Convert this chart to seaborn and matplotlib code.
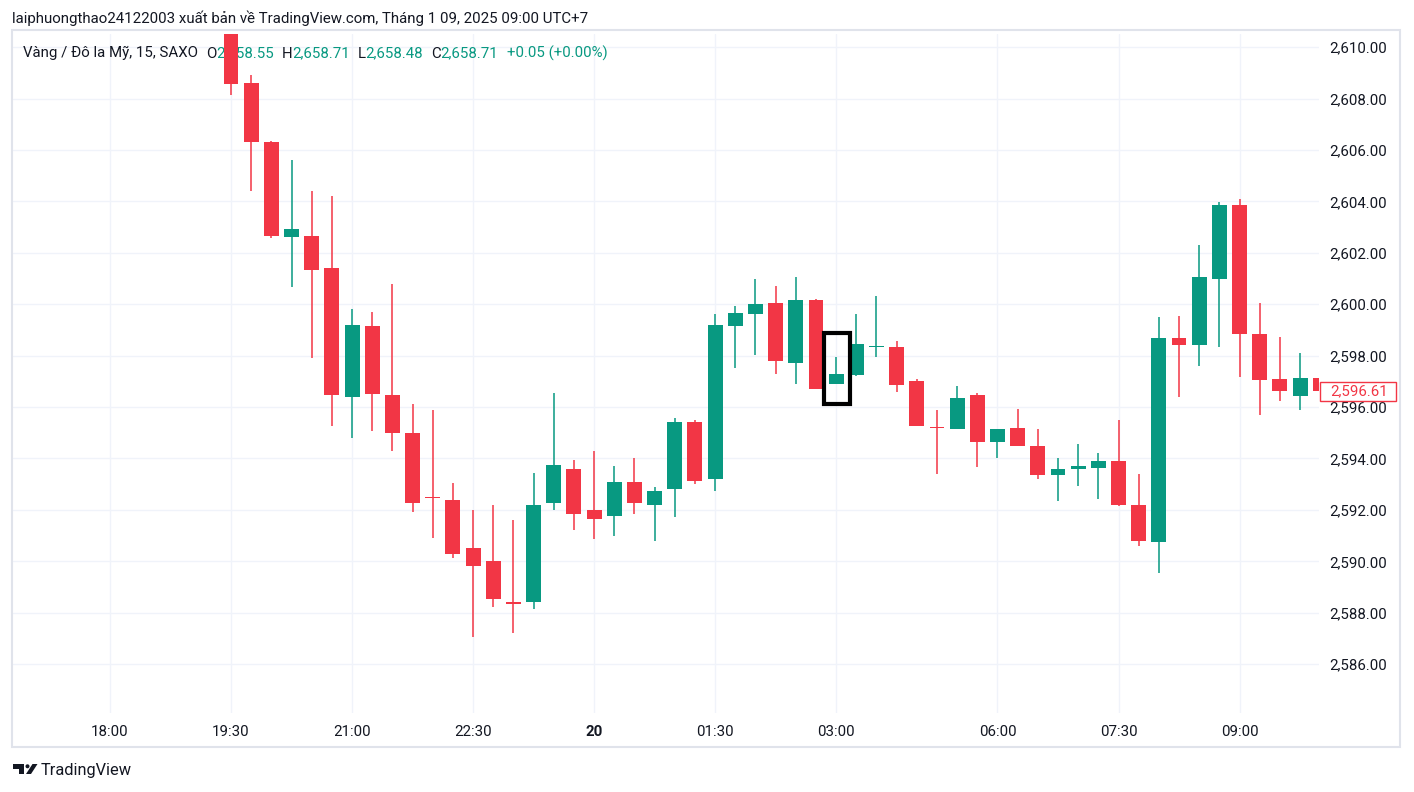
"""
Gold / USD 15 min candles (SAXO), TradingView snapshot, redrawn with seaborn + matplotlib.
"""

import matplotlib
matplotlib.use('Agg')
import matplotlib.pyplot as plt
import matplotlib.patches as mpatches
import numpy as np
import pandas as pd
import seaborn as sns

## 15-min bar grid, 19 Jan 18:00 -> 20 Jan 10:00 (UTC+7), market break 04:00-05:00
times = pd.date_range('2025-01-19 18:00', '2025-01-20 10:00', freq='15min')
times = times[times.hour != 4]

## Candles from 19:30 onwards (earlier bars are above the visible range)
first_bar = '2025-01-19 19:30'
opens = [2611.2, 2608.6, 2606.3, 2602.6, 2602.65, 2601.4, 2596.4, 2599.15, 2596.45, 2595.0,
         2592.5, 2592.4, 2590.5, 2590.0, 2588.38, 2588.4, 2592.25, 2593.6, 2592.0, 2591.75,
         2593.1, 2592.2, 2592.8, 2595.4, 2593.2, 2599.15, 2599.6, 2600.05, 2597.7, 2600.15,
         2596.9, 2597.25, 2598.33, 2598.35, 2597.0, 2595.22, 2595.15, 2596.45, 2594.65, 2595.2,
         2594.5, 2593.37, 2593.6, 2593.64, 2593.9, 2592.2, 2590.75, 2598.68, 2598.42, 2601.0,
         2603.85, 2598.85, 2597.09, 2596.44, 2597.13]
highs = [2611.8, 2608.9, 2606.35, 2605.6, 2604.4, 2604.2, 2599.8, 2599.7, 2600.8, 2596.1,
         2595.9, 2593.05, 2592.0, 2592.2, 2591.6, 2593.45, 2596.55, 2593.95, 2594.3, 2593.7,
         2594.0, 2592.9, 2595.57, 2595.5, 2599.6, 2599.93, 2601.0, 2600.7, 2601.05, 2600.2,
         2597.95, 2599.6, 2600.3, 2598.55, 2597.1, 2595.88, 2596.8, 2596.55, 2595.15, 2595.92,
         2595.14, 2594.0, 2594.55, 2594.2, 2595.5, 2593.4, 2599.5, 2599.55, 2602.3, 2603.97,
         2604.1, 2600.04, 2598.72, 2598.1, 2597.13]
lows = [2608.13, 2604.4, 2602.58, 2600.68, 2597.9, 2595.27, 2594.8, 2595.05, 2594.3, 2591.93,
        2590.9, 2590.14, 2587.07, 2588.23, 2587.22, 2588.15, 2592.0, 2591.23, 2590.85, 2591.0,
        2591.83, 2590.8, 2591.73, 2593.0, 2592.75, 2597.53, 2598.03, 2597.3, 2596.9, 2596.7,
        2596.9, 2597.22, 2597.95, 2596.6, 2595.27, 2593.4, 2595.15, 2593.68, 2594.03, 2594.5,
        2593.2, 2592.35, 2592.92, 2592.42, 2592.15, 2590.6, 2589.55, 2596.4, 2597.6, 2598.34,
        2597.18, 2595.7, 2596.24, 2595.9, 2596.6]
closes = [2608.55, 2606.3, 2602.65, 2602.92, 2601.35, 2596.45, 2599.2, 2596.5, 2595.0, 2592.25,
          2592.46, 2590.3, 2589.83, 2588.55, 2588.34, 2592.2, 2593.75, 2591.85, 2591.65, 2593.1,
          2592.25, 2592.75, 2595.4, 2593.13, 2599.2, 2599.65, 2600.0, 2597.8, 2600.15, 2596.7,
          2597.3, 2598.45, 2598.38, 2596.85, 2595.27, 2595.18, 2596.35, 2594.65, 2595.15, 2594.5,
          2593.37, 2593.6, 2593.7, 2593.9, 2592.2, 2590.8, 2598.7, 2598.42, 2601.05, 2603.85,
          2598.85, 2597.06, 2596.63, 2597.13, 2596.61]

## Axis labels
price_ticks = [2586, 2588, 2590, 2592, 2594, 2596, 2598, 2600, 2602, 2604, 2606, 2608, 2610]
time_ticks = ['2025-01-19 18:00', '2025-01-19 19:30', '2025-01-19 21:00', '2025-01-19 22:30',
              '2025-01-20 00:00', '2025-01-20 01:30', '2025-01-20 03:00', '2025-01-20 06:00',
              '2025-01-20 07:30', '2025-01-20 09:00']
time_labels = ['18:00', '19:30', '21:00', '22:30', '20', '01:30', '03:00', '06:00', '07:30', '09:00']
last_price = 2596.61
marked_bar = '2025-01-20 03:00'

header = 'laiphuongthao24122003 xuất bản về TradingView.com, Tháng 1 09, 2025 09:00 UTC+7'
legend_parts = [('Vàng / Đô la Mỹ, 15, SAXO', 'dark'), ('O', 'dark'), ('2,658.55', 'green'),
                ('H', 'dark'), ('2,658.71', 'green'), ('L', 'dark'), ('2,658.48', 'green'),
                ('C', 'dark'), ('2,658.71', 'green'), ('+0.05 (+0.00%)', 'green')]

UP = '#089981'
DOWN = '#F23645'
DARK = '#131722'
GRID = '#f0f3fa'
FS = 10.8

df = pd.DataFrame({'time': pd.date_range(first_bar, periods=len(opens), freq='15min'),
                   'open': opens, 'high': highs, 'low': lows, 'close': closes})
# bars after the 04:00 break are shifted by one hour
df.loc[df['time'] >= '2025-01-20 04:00', 'time'] += pd.Timedelta(hours=1)
df['x'] = times.get_indexer(df['time'])
df['up'] = df['close'] >= df['open']
df['color'] = np.where(df['up'], UP, DOWN)

sns.set_theme(style='white')
plt.rcParams['font.family'] = ['Roboto', 'DejaVu Sans']

W, H = 1414, 792
fig = plt.figure(figsize=(W / 100, H / 100), dpi=100)
ax = fig.add_axes([13 / W, 1 - 713 / H, (1319 - 13) / W, (713 - 34) / H])

# wicks + bodies
ax.vlines(df['x'], df['low'], df['high'], colors=df['color'], lw=1.1, zorder=3)
body_bottom = df[['open', 'close']].min(axis=1)
body_height = (df['close'] - df['open']).abs().clip(lower=0.06)
ax.bar(df['x'], body_height, bottom=body_bottom, width=0.74, color=df['color'],
       linewidth=0, zorder=4)

# marker box around the 03:00 candle
mx = times.get_loc(pd.Timestamp(marked_bar))
ax.add_patch(mpatches.Rectangle((mx - 0.6, 2596.11), 1.29, 2.77, fill=False,
                                ec='black', lw=3, zorder=5))

ax.set_xlim(-4.81, 59.94)
ax.set_ylim(2584.10, 2610.51)

tick_pos = [times.get_loc(pd.Timestamp(t)) for t in time_ticks]
ax.set_xticks(tick_pos)
ax.set_xticklabels(time_labels)
for lab in ax.get_xticklabels():
    if lab.get_text() == '20':
        lab.set_fontweight('bold')
ax.set_yticks(price_ticks)
ax.set_yticklabels([f'{p:,.2f}' for p in price_ticks])
ax.yaxis.tick_right()
ax.tick_params(axis='x', length=0, pad=8.5, labelsize=FS, labelcolor=DARK)
ax.tick_params(axis='y', length=0, pad=7.5, labelsize=FS, labelcolor=DARK)
ax.grid(True, color=GRID, lw=1)
ax.set_axisbelow(True)
for s in ax.spines.values():
    s.set_visible(False)

# last price label
ax.add_patch(mpatches.Rectangle((1.0005, last_price - 0.37), 76 / 1306, 0.74,
                                transform=ax.get_yaxis_transform(), fc='white', ec=DOWN,
                                lw=1, zorder=6, clip_on=False))
ax.annotate(f'{last_price:,.2f}', xy=(1, last_price), xycoords=('axes fraction', 'data'),
            xytext=(8, 0), textcoords='offset points', ha='left', va='center',
            fontsize=FS, color=DOWN, zorder=7, annotation_clip=False)

# legend line (under the candles)
colors = {'dark': DARK, 'green': UP}
gaps = [0, 5.5, 0, 5.5, 0, 5.5, 0, 5.5, 0, 6]
prev = None
for (txt, c), g in zip(legend_parts, gaps):
    if prev is None:
        prev = ax.annotate(txt, xy=(23 / W, 1 - 57.5 / H), xycoords='figure fraction',
                           ha='left', va='baseline', fontsize=FS, color=colors[c], zorder=1)
    else:
        prev = ax.annotate(txt, xy=(1, 1 - 57.5 / H), xycoords=(prev, 'figure fraction'),
                           xytext=(g, 0), textcoords='offset points',
                           ha='left', va='baseline', fontsize=FS, color=colors[c], zorder=1)

fig.text(12 / W, 1 - 18 / H, header, fontsize=FS, color=DARK, va='center', ha='left')

# outer frame
fig.add_artist(mpatches.Rectangle((12 / W, 1 - 747 / H), (1400 - 12) / W, (747 - 30) / H,
                                  transform=fig.transFigure, fill=False, ec='#e0e3eb', lw=1.5))

# TradingView logo
def px(x, y):
    return (x / W, 1 - y / H)

fig.add_artist(mpatches.Polygon([px(13, 764), px(24, 764), px(24, 774), px(19, 774),
                                 px(19, 768.5), px(13, 768.5)],
                                transform=fig.transFigure, fc=DARK, ec='none'))
fig.add_artist(mpatches.Ellipse(px(27.5, 766.3), 4 / W, 4 / H,
                                transform=fig.transFigure, fc=DARK, ec='none'))
fig.add_artist(mpatches.Polygon([px(26, 774), px(32.5, 764), px(37.5, 764), px(31, 774)],
                                transform=fig.transFigure, fc=DARK, ec='none'))
fig.text(41 / W, 1 - 770 / H, 'TradingView', fontsize=11.8, color=DARK, va='center', ha='left')

fig.savefig('out.png', dpi=100, facecolor='white')
